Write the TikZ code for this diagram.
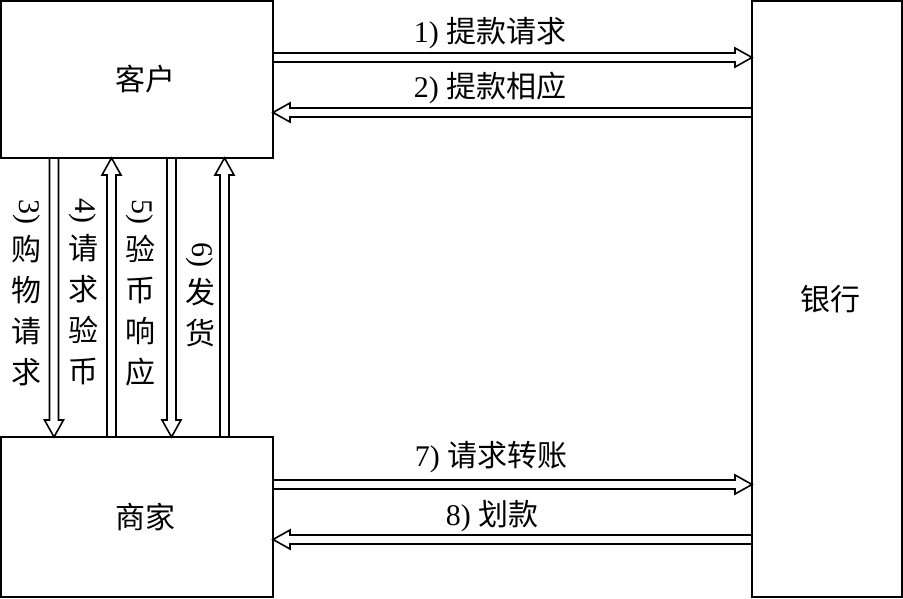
\documentclass[tikz,border=0pt]{standalone}
\usepackage{fontspec}
\setmainfont{Liberation Serif}
\newfontfamily\cjk{Noto Sans CJK SC}
\usetikzlibrary{calc}
\newcommand\zh[1]{{\cjk #1}}
\newcommand\rnum[1]{\rotatebox[origin=c]{-90}{#1}}
\tikzset{
  box/.style={draw, line width=2pt, inner sep=0pt, outer sep=0pt,
    font=\fontsize{30}{36}\selectfont\cjk},
  lbl/.style={font=\fontsize{30}{36}\selectfont, inner sep=0pt},
  vlbl/.style={font=\fontsize{30}{41}\selectfont, align=center, inner sep=0pt},
  hollow/.style={line width=1.6pt, line join=miter, to path={
    ($(\tikztostart)!4.5pt!90:(\tikztotarget)$)
    -- ($(\tikztotarget)!17pt!(\tikztostart)!4.5pt!90:(\tikztotarget)$)
    -- ($(\tikztotarget)!17pt!(\tikztostart)!9.5pt!90:(\tikztotarget)$)
    -- (\tikztotarget)
    -- ($(\tikztotarget)!17pt!(\tikztostart)!9.5pt!-90:(\tikztotarget)$)
    -- ($(\tikztotarget)!17pt!(\tikztostart)!4.5pt!-90:(\tikztotarget)$)
    -- ($(\tikztostart)!4.5pt!-90:(\tikztotarget)$)
  }}
}
\begin{document}
\begin{tikzpicture}[x=1pt,y=-1pt]
\useasboundingbox (0,0) rectangle (903,598);
\node[box, minimum width=272pt, minimum height=157pt] (kh) at (137,79.5) {\hspace*{16pt}客户};
\node[box, minimum width=272pt, minimum height=160pt] (sj) at (137,517) {\hspace*{16pt}商家};
\node[box, minimum width=150pt, minimum height=596pt] (yh) at (827,299) {\hspace*{6pt}银行};

\draw[hollow] (kh.east |- 0,57.5) to (yh.west |- 0,57.5);
\draw[hollow] (yh.west |- 0,112.5) to (kh.east |- 0,112.5);
\draw[hollow] (sj.east |- 0,484.5) to (yh.west |- 0,484.5);
\draw[hollow] (yh.west |- 0,539.5) to (sj.east |- 0,539.5);

\draw[hollow] (kh.south -| 54,0) to (sj.north -| 54,0);
\draw[hollow] (sj.north -| 111.5,0) to (kh.south -| 111.5,0);
\draw[hollow] (kh.south -| 171.5,0) to (sj.north -| 171.5,0);
\draw[hollow] (sj.north -| 224.5,0) to (kh.south -| 224.5,0);

\node[lbl] (l1) at (490,33) {1)\ \zh{提款请求}};
\node[lbl] (l2) at (490,88) {2)\ \zh{提款相应}};
\node[lbl] (l7) at (491,457) {7)\ \zh{请求转账}};
\node[lbl] (l8) at (492,516) {8)\ \zh{划款}};

\node[vlbl] (l3) at (27,293) {\rnum{3)}\\\zh{购}\\\zh{物}\\\zh{请}\\\zh{求}};
\node[vlbl] (l4) at (83,292) {\rnum{4)}\\\zh{请}\\\zh{求}\\\zh{验}\\\zh{币}};
\node[vlbl] (l5) at (140,293) {\rnum{5)}\\\zh{验}\\\zh{币}\\\zh{响}\\\zh{应}};
\node[vlbl] (l6) at (200,295) {\rnum{6)}\\\zh{发}\\\zh{货}};
\end{tikzpicture}
\end{document}
